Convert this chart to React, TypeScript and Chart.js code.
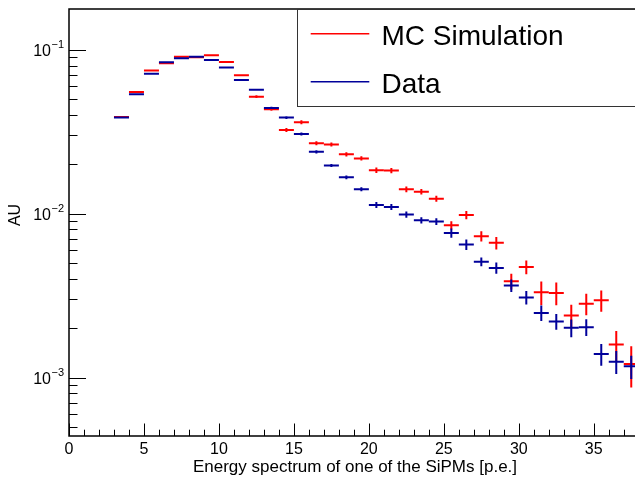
import React, { useEffect, useRef } from "react";
import { Chart, registerables } from "chart.js";

Chart.register(...registerables);

const binCenters = [3.5, 4.5, 5.5, 6.5, 7.5, 8.5, 9.5, 10.5, 11.5, 12.5, 13.5, 14.5, 15.5, 16.5, 17.5, 18.5, 19.5, 20.5, 21.5, 22.5, 23.5, 24.5, 25.5, 26.5, 27.5, 28.5, 29.5, 30.5, 31.5, 32.5, 33.5, 34.5, 35.5, 36.5, 37.5];
const binHalfWidth = 0.5;

const mcValues = [0.0388, 0.0551, 0.0745, 0.0827, 0.0906, 0.09, 0.0923, 0.0841, 0.0697, 0.0517, 0.0433, 0.0324, 0.0361, 0.0269, 0.0264, 0.023, 0.0217, 0.0184, 0.0183, 0.01406, 0.01361, 0.01234, 0.00848, 0.00982, 0.00728, 0.00663, 0.00387, 0.00472, 0.00331, 0.00328, 0.00239, 0.00282, 0.00296, 0.00159, 0.00121];
const mcErrors = [0.00054, 0.00077, 0.00104, 0.00116, 0.00127, 0.00126, 0.00129, 0.00118, 0.00098, 0.00093, 0.00087, 0.00092, 0.00103, 0.00077, 0.00075, 0.00069, 0.00065, 0.0007, 0.0007, 0.00056, 0.00054, 0.00053, 0.00049, 0.00057, 0.00053, 0.00058, 0.00043, 0.00045, 0.00055, 0.00052, 0.00039, 0.00042, 0.00044, 0.00033, 0.00034];

const dataValues = [0.0385, 0.0534, 0.0714, 0.0837, 0.0885, 0.0906, 0.0866, 0.0777, 0.0654, 0.057, 0.0441, 0.0385, 0.0306, 0.0238, 0.01965, 0.01664, 0.0141, 0.01129, 0.01099, 0.00986, 0.0091, 0.00894, 0.00762, 0.00647, 0.00509, 0.00466, 0.00364, 0.00308, 0.00248, 0.0022, 0.00201, 0.00203, 0.00139, 0.00125, 0.00117];
const dataErrors = [0.00046, 0.00064, 0.00086, 0.001, 0.00106, 0.00109, 0.00104, 0.00093, 0.00078, 0.0008, 0.0007, 0.00077, 0.00064, 0.00052, 0.00043, 0.00042, 0.00039, 0.00049, 0.00047, 0.00044, 0.00041, 0.00042, 0.0005, 0.00047, 0.00031, 0.00037, 0.00032, 0.00029, 0.00027, 0.00024, 0.00025, 0.00024, 0.00021, 0.0002, 0.00019];

const xTickLabels = [0, 5, 10, 15, 20, 25, 30, 35];
const yDecades = [-4, -3, -2, -1];
const seriesNames = ["MC Simulation", "Data"];
const seriesColors = ["#ff0000", "#00009a"];
const xTitle = "Energy spectrum of one of the SiPMs [p.e.]";
const yTitle = "AU";

const FONT = '"Liberation Sans", Arial, Helvetica, sans-serif';

const errorBarPlugin = {
  id: "errorBars",
  afterDatasetsDraw(chart: any) {
    const { ctx, chartArea } = chart;
    const xs = chart.scales.x;
    const ys = chart.scales.y;
    ctx.save();
    ctx.beginPath();
    ctx.rect(chartArea.left, chartArea.top, chartArea.right - chartArea.left, chartArea.bottom - chartArea.top);
    ctx.clip();
    chart.data.datasets.forEach((ds: any) => {
      ctx.strokeStyle = ds.borderColor;
      ctx.lineWidth = 2;
      ds.data.forEach((p: any) => {
        const x0 = xs.getPixelForValue(p.x - binHalfWidth);
        const x1 = xs.getPixelForValue(p.x + binHalfWidth);
        const xc = xs.getPixelForValue(p.x);
        const yc = ys.getPixelForValue(p.y);
        const yLo = ys.getPixelForValue(Math.max(p.y - p.err, 1e-6));
        const yHi = ys.getPixelForValue(p.y + p.err);
        ctx.beginPath();
        ctx.moveTo(x0, yc);
        ctx.lineTo(x1, yc);
        ctx.moveTo(xc, yLo);
        ctx.lineTo(xc, yHi);
        ctx.stroke();
      });
    });
    ctx.restore();
  },
};

const rootAxesPlugin = {
  id: "rootAxes",
  afterDraw(chart: any) {
    const { ctx, chartArea } = chart;
    const xs = chart.scales.x;
    const ys = chart.scales.y;
    const L = chartArea.left;
    const R = chartArea.right;
    const T = chartArea.top;
    const B = chartArea.bottom;
    ctx.save();
    // frame
    ctx.strokeStyle = "#000";
    ctx.lineWidth = 1.5;
    ctx.beginPath();
    ctx.moveTo(R + 5, T);
    ctx.lineTo(L, T);
    ctx.lineTo(L, B);
    ctx.lineTo(R + 5, B);
    ctx.stroke();

    // x ticks
    ctx.lineWidth = 1;
    ctx.strokeStyle = "#000";
    ctx.beginPath();
    for (let v = 0; v <= xs.max; v += 1) {
      const px = Math.round(xs.getPixelForValue(v)) + 0.5;
      const len = v % 5 === 0 ? 12.5 : 6.3;
      ctx.moveTo(px, B);
      ctx.lineTo(px, B - len);
    }
    ctx.stroke();

    // y ticks
    ctx.beginPath();
    yDecades.forEach((d) => {
      for (let m = 1; m <= 9; m++) {
        const v = m * Math.pow(10, d);
        if (v < ys.min || v > ys.max) continue;
        const py = Math.round(ys.getPixelForValue(v)) + 0.5;
        const len = m === 1 ? 17 : 8.5;
        ctx.moveTo(L, py);
        ctx.lineTo(L + len, py);
      }
    });
    ctx.stroke();

    // x labels
    ctx.fillStyle = "#000";
    ctx.font = `16px ${FONT}`;
    ctx.textAlign = "center";
    ctx.textBaseline = "alphabetic";
    xTickLabels.forEach((v) => {
      ctx.fillText(String(v), xs.getPixelForValue(v), B + 18);
    });

    // y labels: 10^d
    yDecades.forEach((d) => {
      const v = Math.pow(10, d);
      if (v < ys.min || v > ys.max) return;
      const py = ys.getPixelForValue(v);
      ctx.font = `16px ${FONT}`;
      ctx.textAlign = "right";
      ctx.fillText("10", 51, py + 6);
      ctx.font = `11px ${FONT}`;
      ctx.textAlign = "left";
      ctx.fillText("\u2212" + String(-d), 51.5, py - 2);
    });

    // axis titles
    ctx.font = `17px ${FONT}`;
    ctx.textAlign = "center";
    ctx.fillText(xTitle, 355, 472);
    ctx.font = `16px ${FONT}`;
    ctx.save();
    ctx.translate(20, 215);
    ctx.rotate(-Math.PI / 2);
    ctx.fillText(yTitle, 0, 0);
    ctx.restore();

    // legend
    const lx = 297.5, ly = 9.5, lb = 106.5;
    ctx.fillStyle = "#fff";
    ctx.fillRect(lx, ly, 640 - lx, lb - ly);
    ctx.strokeStyle = "#333";
    ctx.lineWidth = 1;
    ctx.strokeRect(lx, ly, 640 - lx, lb - ly);
    const rows = [33.7, 81.7];
    seriesNames.forEach((name, i) => {
      ctx.strokeStyle = seriesColors[i];
      ctx.lineWidth = 1.5;
      ctx.beginPath();
      ctx.moveTo(310.7, rows[i]);
      ctx.lineTo(369.3, rows[i]);
      ctx.stroke();
      ctx.fillStyle = "#000";
      ctx.font = `28px ${FONT}`;
      ctx.textAlign = "left";
      ctx.fillText(name, 381.5, rows[i] + 11);
    });
    ctx.restore();
  },
};

export default function App() {
  const canvasRef = useRef<HTMLCanvasElement | null>(null);

  useEffect(() => {
    const canvas = canvasRef.current;
    if (!canvas) return;
    const mk = (vals: number[], errs: number[]) =>
      binCenters.map((x, i) => ({ x, y: vals[i], err: errs[i] }));
    const chart = new Chart(canvas, {
      type: "scatter",
      data: {
        datasets: [
          {
            label: seriesNames[0],
            data: mk(mcValues, mcErrors),
            borderColor: seriesColors[0],
            backgroundColor: seriesColors[0],
            pointRadius: 0,
            showLine: false,
          },
          {
            label: seriesNames[1],
            data: mk(dataValues, dataErrors),
            borderColor: seriesColors[1],
            backgroundColor: seriesColors[1],
            pointRadius: 0,
            showLine: false,
          },
        ],
      },
      options: {
        animation: false,
        responsive: false,
        maintainAspectRatio: false,
        layout: { padding: { left: 69, top: 9, right: 0, bottom: 41 } },
        plugins: { legend: { display: false }, tooltip: { enabled: false } },
        scales: {
          x: { type: "linear", min: 0, max: 37.75, display: false },
          y: { type: "logarithmic", min: 4.4e-4, max: 0.177, display: false },
        },
      },
      plugins: [errorBarPlugin, rootAxesPlugin],
    } as any);
    return () => chart.destroy();
  }, []);

  return (
    <div style={{ position: "fixed", left: 0, top: 0, width: 635, height: 477, background: "#fff" }}>
      <canvas ref={canvasRef} width={635} height={477} style={{ width: 635, height: 477, display: "block" }} />
    </div>
  );
}
